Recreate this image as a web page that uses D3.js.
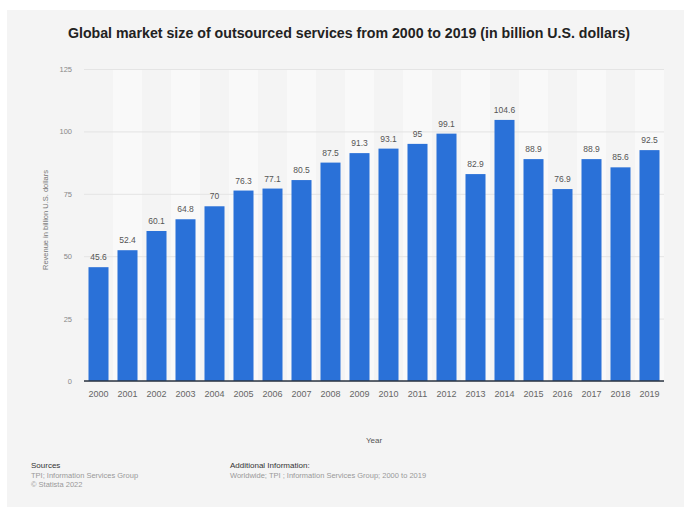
<!DOCTYPE html>
<html>
<head>
<meta charset="utf-8">
<script src="https://cdn.jsdelivr.net/npm/d3@7"></script>
<style>
  html, body { margin: 0; padding: 0; background: #ffffff; }
  svg { display: block; font-family: "Liberation Sans", Arial, sans-serif; }
</style>
</head>
<body>
<svg id="chart" width="684" height="510"></svg>
<script>
// Global outsourced services market, billion U.S. dollars
const years = ["2000","2001","2002","2003","2004","2005","2006","2007","2008","2009",
               "2010","2011","2012","2013","2014","2015","2016","2017","2018","2019"];
const revenue = [45.6, 52.4, 60.1, 64.8, 70, 76.3, 77.1, 80.5, 87.5, 91.3,
                 93.1, 95, 99.1, 82.9, 104.6, 88.9, 76.9, 88.9, 85.6, 92.5];
const yTicks = [0, 25, 50, 75, 100, 125];

const svg = d3.select("#chart");

// card background
svg.append("rect")
  .attr("x", 7).attr("y", 10).attr("width", 677).attr("height", 497)
  .attr("fill", "#f4f4f4");

const plot = { left: 84, right: 664, top: 69, bottom: 381 };

const x = d3.scaleBand().domain(years).range([plot.left, plot.right]).paddingInner(0.31).paddingOuter(0.155);
const xStripe = d3.scaleBand().domain(years).range([plot.left, plot.right]);
const y = d3.scaleLinear().domain([0, 125]).range([plot.bottom, plot.top]);

// alternating column shading
svg.append("g").selectAll("rect")
  .data(years.filter((d, i) => i % 2 === 1))
  .join("rect")
  .attr("x", d => xStripe(d))
  .attr("y", plot.top)
  .attr("width", xStripe.bandwidth())
  .attr("height", plot.bottom - plot.top)
  .attr("fill", "#f9f9f9");

// horizontal grid + y tick labels
const yAxis = d3.axisLeft(y).tickValues(yTicks).tickSize(-(plot.right - plot.left)).tickPadding(12);
const gy = svg.append("g").attr("transform", `translate(${plot.left},0)`).call(yAxis);
gy.select(".domain").remove();
gy.selectAll(".tick line").attr("stroke", "#e4e4e4").attr("stroke-width", 1);
gy.selectAll(".tick text").attr("fill", "#888").attr("font-size", 7.5);

// bars
svg.append("g").selectAll("rect")
  .data(years)
  .join("rect")
  .attr("x", d => x(d))
  .attr("y", (d, i) => y(revenue[i]))
  .attr("width", x.bandwidth())
  .attr("height", (d, i) => y(0) - y(revenue[i]))
  .attr("fill", "#2a71d8");

// value labels
svg.append("g").selectAll("text")
  .data(years)
  .join("text")
  .attr("x", d => x(d) + x.bandwidth() / 2)
  .attr("y", (d, i) => y(revenue[i]) - 7)
  .attr("text-anchor", "middle")
  .attr("font-size", 8.5)
  .attr("fill", "#555")
  .text((d, i) => String(revenue[i]));

// x axis
const xAxis = d3.axisBottom(x).tickSize(0).tickPadding(10);
const gx = svg.append("g").attr("transform", `translate(0,${plot.bottom})`).call(xAxis);
gx.select(".domain").attr("stroke", "#2b3442").attr("stroke-width", 1.5)
  .attr("d", `M${plot.left},0H${plot.right}`);
gx.selectAll(".tick text").attr("fill", "#666").attr("font-size", 9);

// title
svg.append("text")
  .attr("x", 349).attr("y", 38)
  .attr("text-anchor", "middle")
  .attr("font-size", 14.2).attr("font-weight", "bold").attr("fill", "#222")
  .text("Global market size of outsourced services from 2000 to 2019 (in billion U.S. dollars)");

// axis titles
svg.append("text")
  .attr("transform", "translate(48,220) rotate(-90)")
  .attr("text-anchor", "middle")
  .attr("font-size", 7.5).attr("fill", "#777")
  .text("Revenue in billion U.S. dollars");

svg.append("text")
  .attr("x", 374).attr("y", 443)
  .attr("text-anchor", "middle")
  .attr("font-size", 8).attr("fill", "#555")
  .text("Year");

// footer
const foot = svg.append("g").attr("font-size", 8);
foot.append("text").attr("x", 31).attr("y", 468).attr("fill", "#333").text("Sources");
foot.append("text").attr("x", 31).attr("y", 478).attr("fill", "#999").attr("font-size", 7.5).text("TPI; Information Services Group");
foot.append("text").attr("x", 31).attr("y", 487).attr("fill", "#999").attr("font-size", 7.5).text("© Statista 2022");
foot.append("text").attr("x", 230).attr("y", 468).attr("fill", "#333").text("Additional Information:");
foot.append("text").attr("x", 230).attr("y", 478).attr("fill", "#999").attr("font-size", 7.5).text("Worldwide; TPI ; Information Services Group; 2000 to 2019");
</script>
</body>
</html>
